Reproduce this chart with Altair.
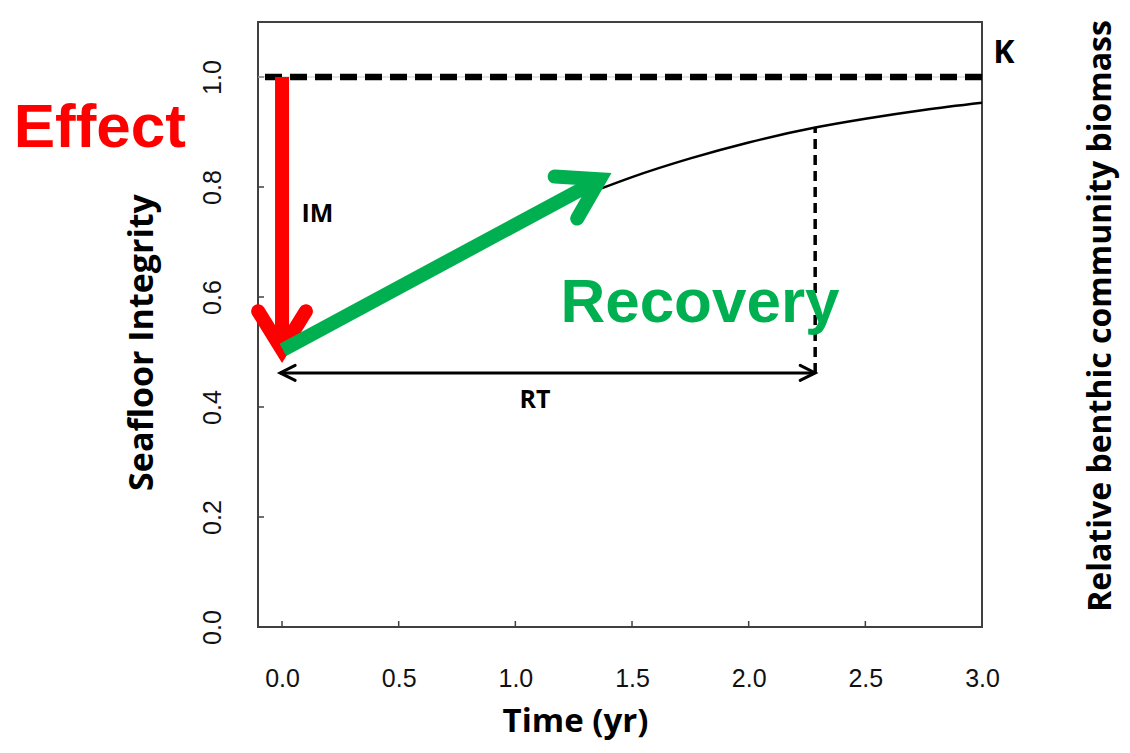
import altair as alt
import pandas as pd

# ---- values ----
x_domain = [-0.103, 3.0]
y_domain = [0.0, 1.1]
x_ticks = [0.0, 0.5, 1.0, 1.5, 2.0, 2.5, 3.0]
y_ticks = [0.0, 0.2, 0.4, 0.6, 0.8, 1.0]
k_level = 1.0

curve_time = [1.36, 1.5, 1.75, 2.0, 2.285, 2.5, 2.75, 3.0]
curve_value = [0.796, 0.818, 0.852, 0.881, 0.908, 0.924, 0.940, 0.953]

impact_time = 0.0
impact_from = 1.0
impact_to = 0.504

recovery_time = [0.004, 1.362]
recovery_value = [0.504, 0.814]
recovery_angle = 331.7

rt_time = [-0.008, 2.285]
rt_level = 0.462
rt_curve_value = 0.908

ann_text = ["IM", "RT", "K"]
ann_time = [0.152, 1.084, 3.094]
ann_value = [0.736, 0.398, 1.025]

big_text = ["Effect", "Recovery"]
big_time = [-1.15, 1.193]
big_value = [0.873, 0.5545]
big_color = ["#FF0000", "#00B050"]

right_title = "Relative benthic community biomass"

# ---- scales / axes ----
W, H = 724, 605
XS = alt.Scale(domain=x_domain, nice=False, zero=False)
YS = alt.Scale(domain=y_domain, nice=False, zero=False)
XAX = alt.Axis(values=x_ticks, format=".1f", title="Time (yr)", grid=False,
               domain=False, ticks=False, tickSize=0, labelPadding=59,
               labelBaseline="alphabetic", labelAlign="center",
               labelFont="Liberation Sans", labelFontSize=25, labelColor="#111111",
               labelFlush=False, labelOverlap=False,
               titleFont="Open Sans", titleFontSize=33, titleFontWeight="bold",
               titleColor="#000000", titleX=317, titleY=104,
               titleAlign="center", titleBaseline="alphabetic")
YAX = alt.Axis(values=y_ticks, format=".1f", title="Seafloor Integrity", grid=False,
               domain=False, ticks=False, tickSize=0, labelPadding=38,
               labelAngle=270, labelAlign="center", labelBaseline="alphabetic",
               labelFont="Liberation Sans", labelFontSize=25, labelColor="#111111",
               labelFlush=False, labelOverlap=False,
               titleFont="Open Sans", titleFontSize=34, titleFontWeight="bold",
               titleColor="#000000", titleAngle=270, titleX=-106, titleY=320,
               titleAlign="center", titleBaseline="alphabetic")


def X(f):
    return alt.X(f, type="quantitative", scale=XS, axis=XAX)


def Y(f):
    return alt.Y(f, type="quantitative", scale=YS, axis=YAX)


FRAME = "#404040"
CHEVRON = "M-1,-0.62L0,0L-1,0.62"
ARROWTIP = "M-1,-0.5L0,0L-1,0.5"

# inward ticks
tx = alt.Chart(pd.DataFrame({"t": x_ticks})).mark_rule(color=FRAME, strokeWidth=1.5).encode(
    x=X("t"), y=alt.value(H - 6), y2=alt.value(H))
ty = alt.Chart(pd.DataFrame({"v": y_ticks})).mark_rule(color=FRAME, strokeWidth=1.5).encode(
    y=Y("v"), x=alt.value(0), x2=alt.value(6))

kdf = pd.DataFrame({"t0": [x_domain[0]], "t1": [x_domain[1]], "v": [k_level]})
k_thin = alt.Chart(kdf).mark_rule(color="#c8c8c8", strokeWidth=1).encode(
    x=X("t0"), x2="t1", y=Y("v"))
k_dash = alt.Chart(kdf).mark_rule(color="#000000", strokeWidth=6.5,
                                  strokeDash=[17, 8], strokeDashOffset=18).encode(
    x=X("t0"), x2="t1", y=Y("v"))

curve = alt.Chart(pd.DataFrame({"t": curve_time, "v": curve_value})).mark_line(
    color="#000000", strokeWidth=2.5, interpolate="monotone").encode(x=X("t"), y=Y("v"))

vdash = alt.Chart(pd.DataFrame({"t": [rt_time[1]], "v0": [rt_level], "v1": [rt_curve_value]})).mark_rule(
    color="#000000", strokeWidth=3.5, strokeDash=[10, 6]).encode(x=X("t"), y=Y("v0"), y2="v1")

rt_line = alt.Chart(pd.DataFrame({"t0": [rt_time[0]], "t1": [rt_time[1]], "v": [rt_level]})).mark_rule(
    color="#000000", strokeWidth=3).encode(x=X("t0"), x2="t1", y=Y("v"))
rt_heads = alt.Chart(pd.DataFrame({"t": rt_time, "v": [rt_level, rt_level], "a": [180, 0]})).mark_point(
    shape=ARROWTIP, size=900, filled=False, stroke="#000000", strokeWidth=3,
    opacity=1, strokeJoin="miter", strokeCap="round").encode(
    x=X("t"), y=Y("v"), angle=alt.Angle("a:Q", scale=None))

red_line = alt.Chart(pd.DataFrame({"t": [impact_time], "v0": [impact_from], "v1": [impact_to]})).mark_rule(
    color="#FF0000", strokeWidth=14).encode(x=X("t"), y=Y("v0"), y2="v1")
red_head = alt.Chart(pd.DataFrame({"t": [impact_time], "v": [impact_to], "a": [90]})).mark_point(
    shape=CHEVRON, size=5929, filled=False, stroke="#FF0000", strokeWidth=14,
    opacity=1, strokeJoin="miter", strokeCap="round").encode(
    x=X("t"), y=Y("v"), angle=alt.Angle("a:Q", scale=None))

green_line = alt.Chart(pd.DataFrame({"t0": [recovery_time[0]], "t1": [recovery_time[1]],
                                     "v0": [recovery_value[0]], "v1": [recovery_value[1]]})).mark_rule(
    color="#00B050", strokeWidth=14).encode(x=X("t0"), x2="t1", y=Y("v0"), y2="v1")
green_head = alt.Chart(pd.DataFrame({"t": [recovery_time[1]], "v": [recovery_value[1]],
                                     "a": [recovery_angle]})).mark_point(
    shape=CHEVRON, size=5929, filled=False, stroke="#00B050", strokeWidth=14,
    opacity=1, strokeJoin="miter", strokeCap="round").encode(
    x=X("t"), y=Y("v"), angle=alt.Angle("a:Q", scale=None))

ann_df = pd.DataFrame({"s": ann_text, "t": ann_time, "v": ann_value})
ann_small = alt.Chart(ann_df[ann_df.s != "K"]).mark_text(
    font="Open Sans", fontWeight="bold", fontSize=25, align="center",
    baseline="alphabetic", color="#000000").encode(x=X("t"), y=Y("v"), text="s")
ann_k = alt.Chart(ann_df[ann_df.s == "K"]).mark_text(
    font="Open Sans", fontWeight="bold", fontSize=32, align="center",
    baseline="alphabetic", color="#000000").encode(x=X("t"), y=Y("v"), text="s")

big_df = pd.DataFrame({"s": big_text, "t": big_time, "v": big_value, "c": big_color})
big = alt.Chart(big_df).mark_text(
    font="Liberation Sans", fontWeight="bold", fontSize=62, align="left",
    baseline="alphabetic").encode(x=X("t"), y=Y("v"), text="s",
                                  color=alt.Color("c:N", scale=None))

right = alt.Chart(pd.DataFrame({"s": [right_title]})).mark_text(
    font="Open Sans", fontWeight="bold", fontSize=32, angle=270, align="center",
    baseline="alphabetic", color="#000000").encode(
    x=alt.value(853), y=alt.value(294), text="s")

chart = alt.layer(
    tx, ty, k_thin, k_dash, curve, vdash, rt_line, rt_heads,
    red_line, red_head, green_line, green_head,
    ann_small, ann_k, big, right
).properties(
    width=W, height=H,
    padding={"left": 250, "top": 14, "right": 140, "bottom": 114},
    autosize=alt.AutoSizeParams(type="none"),
    background="#ffffff",
).configure_view(stroke=FRAME, strokeWidth=2)

chart.save("out.html", embed_options={"renderer": "svg", "actions": False})
